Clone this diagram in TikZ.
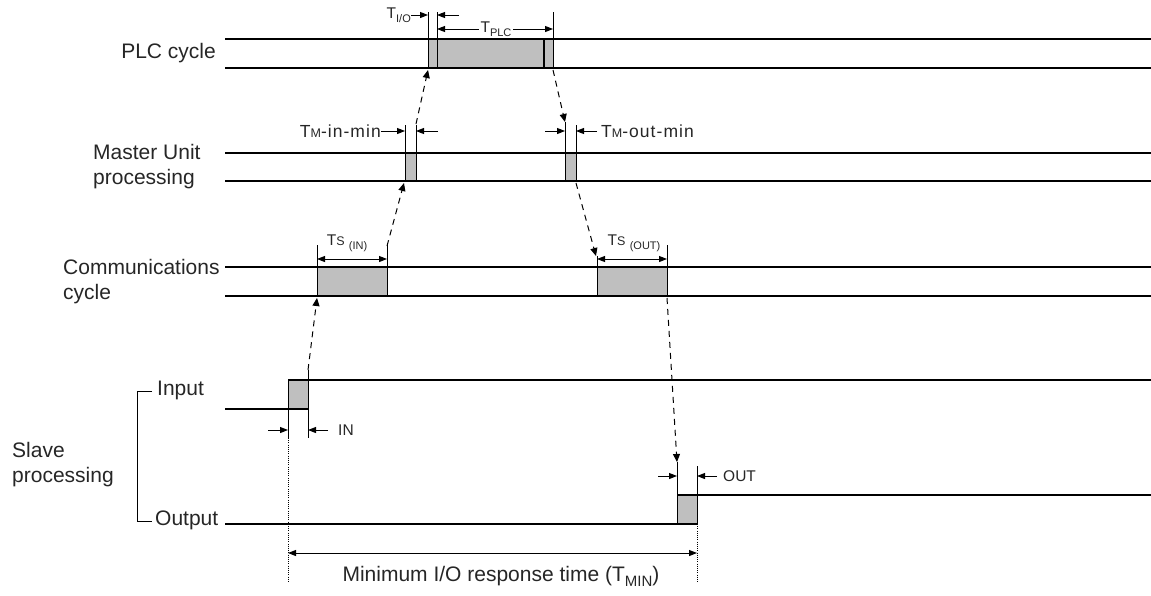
\documentclass[tikz,border=0pt]{standalone}
\usepackage{fontspec}
\setmainfont{Liberation Sans}
\usetikzlibrary{arrows.meta,positioning}
\newcommand{\bigtxt}{\fontsize{21}{25}\selectfont}
\newcommand{\smalltxt}{\fontsize{15.5}{18}\selectfont}
\newcommand{\widetxt}{\fontsize{17.5}{20}\selectfont\addfontfeature{LetterSpace=6}}
\newcommand{\lowidx}[1]{\raisebox{-0.45ex}{\fontsize{11}{11}\selectfont #1}}
\newcommand{\lowcap}[1]{{\fontsize{12.5}{12.5}\selectfont #1}}

\begin{document}
\begin{tikzpicture}[x=1pt,y=-1pt,
    lbl/.style={font=\bigtxt, inner sep=0pt, text=black!85},
    tag/.style={font=\smalltxt, inner sep=0pt, text=black!85},
    track/.style={line width=1.3pt},
    busy/.style={fill=black!25, draw=black, line width=1pt},
    marker/.style={line width=1pt},
    pin/.style={-{Triangle[length=8pt,width=6pt]}, line width=1pt},
    dim/.style={{Triangle[length=8pt,width=6pt]}-{Triangle[length=8pt,width=6pt]}, line width=1pt},
    flow/.style={-{Triangle[length=8pt,width=7pt]}, line width=1pt, dash pattern=on 6pt off 5pt},
    guide/.style={line width=0.6pt, dash pattern=on 1pt off 1.2pt}]
    \useasboundingbox (0,0) rectangle (1151,595);

    % PLC cycle
    \node[lbl, anchor=east] (plc) at (216,53) {PLC cycle};
    \draw[busy] (428,39) rectangle (553,68);
    \draw[track] (225,39) -- (1151,39) (225,68) -- (1151,68);
    \draw[marker] (428,12) -- (428,68) (437,12) -- (437,68) (553,12) -- (553,68);
    \draw[line width=1.6pt] (544,39) -- (544,68);
    \node[tag, anchor=east] (tio) at (411,15) {T\lowidx{I/O}};
    \draw[pin] (tio.east) -- (428,15);
    \draw[pin] (459,15) -- (437,15);
    \draw[dim] (437,29) -- (553,29) node[tag, midway, fill=white, inner sep=2pt, xshift=1pt] (tplc) {T\lowidx{PLC}};

    % Master Unit processing
    \node[lbl, anchor=west, align=left] (master) at (93,167) {Master Unit\\processing};
    \draw[busy] (405,153) rectangle (416,181) (565,153) rectangle (576,181);
    \draw[track] (225,153) -- (1151,153) (225,181) -- (1151,181);
    \draw[marker] (405,125) -- (405,181) (416,125) -- (416,181)
      (565,122) -- (565,181) (576,125) -- (576,181);
    \node[anchor=east, font=\widetxt, inner sep=0pt, text=black!85] (tmin) at (381,131) {T\lowcap{M}-in-min};
    \draw[pin] (tmin.east) -- (405,131);
    \draw[pin] (438,131) -- (416,131);
    \draw[pin] (545,131) -- (565,131);
    \draw[pin] (597,131) -- (576,131);
    \node[anchor=west, font=\widetxt, inner sep=0pt, text=black!85] (tmout) at (601,131) {T\lowcap{M}-out-min};

    % Communications cycle
    \node[lbl, anchor=west, align=left] (comm) at (63,282) {Communications\\cycle};
    \draw[busy] (317,267) rectangle (387,296) (597,267) rectangle (667,296);
    \draw[track] (225,267) -- (1151,267) (225,296) -- (1151,296);
    \draw[marker] (317,245) -- (317,296) (387,245) -- (387,296)
      (597,256) -- (597,296) (667,245) -- (667,296);
    \draw[dim] (317,259) -- (387,259);
    \draw[dim] (597,259) -- (667,259);
    \node[tag] (tsin) at (347,243) {T\lowcap{S} \lowidx{(IN)}};
    \node[tag] (tsout) at (634,243) {T\lowcap{S} \lowidx{(OUT)}};

    % Slave processing
    \node[lbl, anchor=west, align=left] (slave) at (12,465) {Slave\\processing};
    \draw[marker] (152,391) -- (137,391) -- (137,521) -- (152,521);
    \node[lbl, anchor=west] (inp) at (157,390) {Input};
    \node[lbl, anchor=west] (outp) at (155,520) {Output};
    % input
    \draw[busy] (288,380) rectangle (308,409);
    \draw[track] (225,409) -- (308,409) (288,380) -- (1151,380);
    \draw[marker] (288,380) -- (288,438) (308,370) -- (308,438);
    \draw[pin] (268,430) -- (288,430);
    \draw[pin] (328,430) -- (308,430);
    \node[tag, anchor=west] (inlbl) at (338,430) {IN};
    % output
    \draw[busy] (677,495) rectangle (697,524);
    \draw[track] (225,524) -- (697,524) (677,495) -- (1151,495);
    \draw[marker] (677,462) -- (677,495) (697,466) -- (697,524);
    \draw[pin] (658,476) -- (677,476);
    \draw[pin] (717,476) -- (697,476);
    \node[tag, anchor=west] (outlbl) at (723,476) {OUT};

    % response time
    \draw[guide] (288,438) -- (288,583);
    \draw[guide] (697,524) -- (697,583);
    \draw[dim] (288,553) -- (697,553);
    \node[lbl] (tresp) at (501,576) {Minimum I/O response time (T\lowidx{\fontsize{15}{15}\selectfont MIN})};

    % data flow
    \coordinate (inRise) at (308,370);
    \coordinate (tsInL) at (317,298);
    \coordinate (tsInR) at (387,246);
    \coordinate (mInL) at (404,183);
    \coordinate (mInR) at (416,124);
    \coordinate (plcL) at (428,70);
    \coordinate (plcR) at (553,70);
    \coordinate (mOutL) at (565,122);
    \coordinate (mOutR) at (576,183);
    \coordinate (tsOutL) at (596,256);
    \coordinate (tsOutR) at (667,298);
    \coordinate (outL) at (677,462);
    \draw[flow] (inRise) -- (tsInL);
    \draw[flow] (tsInR) -- (mInL);
    \draw[flow] (mInR) -- (plcL);
    \draw[flow] (plcR) -- (mOutL);
    \draw[flow] (mOutR) -- (tsOutL);
    \draw[flow] (tsOutR) -- (outL);
  \end{tikzpicture}
\end{document}
